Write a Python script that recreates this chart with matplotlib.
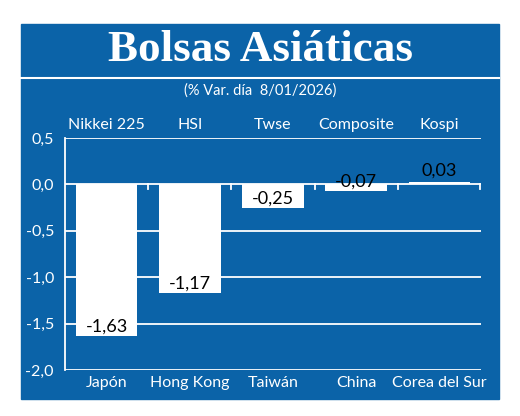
import matplotlib
matplotlib.use("Agg")
import matplotlib.pyplot as plt
from matplotlib.patches import Rectangle

countries = ["Japón", "Hong Kong", "Taiwán", "China", "Corea del Sur"]
indices = ["Nikkei 225", "HSI", "Twse", "Composite", "Kospi"]
values = [-1.63, -1.17, -0.25, -0.07, 0.03]
labels = ["-1,63", "-1,17", "-0,25", "-0,07", "0,03"]
yticks = [0.5, 0.0, -0.5, -1.0, -1.5, -2.0]
yticklabels = ["0,5", "0,0", "-0,5", "-1,0", "-1,5", "-2,0"]

BLUE = "#0b63a8"
plt.rcParams['font.family'] = ['Lato', 'DejaVu Sans']
W, H = 520, 416
fig = plt.figure(figsize=(W/100, H/100), dpi=100)
fig.patches.append(Rectangle((21/W, 1-399/H), 478/W, 375/H, transform=fig.transFigure, color=BLUE, zorder=-10))
fig.lines.append(plt.Line2D([21/W, 499/W], [1-78/H, 1-78/H], transform=fig.transFigure, color="white", lw=1.5))
fig.text(0.5, 1-50/H, "Bolsas Asiáticas", ha="center", va="center", color="white",
         fontsize=32.5, fontweight="bold", family=["Liberation Serif", "DejaVu Serif"])
fig.text(0.5, 1-91/H, "(% Var. día  8/01/2026)", ha="center", va="center", color="white", fontsize=10.5)

ax = fig.add_axes([65/W, 1-370/H, 416/W, 232/H], zorder=5)
ax.patch.set_alpha(0)
x = list(range(len(values)))
ax.set_xlim(-0.5, 4.5)
ax.set_ylim(-2.0, 0.5)
for yv in yticks:
    ax.axhline(yv, color="white", lw=1.3, zorder=1)
ax.bar(x, values, width=0.74, color="white", zorder=2)
for xi, v, lb in zip(x, values, labels):
    if v >= 0:
        ax.text(xi, v + 0.03, lb, ha="center", va="bottom", fontsize=13, color="black", zorder=3)
    else:
        ax.text(xi, v + 0.01, lb, ha="center", va="bottom", fontsize=13, color="black", zorder=3)
for xb in [0.5, 1.5, 2.5, 3.5, 4.49]:
    ax.plot([xb, xb], [0, -0.05], color="white", lw=1.3, zorder=1, clip_on=False)
for s in ["top", "right", "bottom"]:
    ax.spines[s].set_visible(False)
ax.spines["left"].set_color("white")
ax.spines["left"].set_linewidth(1.3)
ax.set_yticks(yticks)
ax.set_yticklabels(yticklabels, color="white", fontsize=11.5)
ax.tick_params(axis="y", length=0, pad=8)
ax.set_xticks(x)
ax.set_xticklabels(countries, color="white", fontsize=11.5)
ax.tick_params(axis="x", length=0, pad=4)
for xi, name in zip(x, indices):
    ax.text(xi, 0.56, name, ha="center", va="bottom", color="white", fontsize=11.5)
fig.savefig("out.png", dpi=100)
